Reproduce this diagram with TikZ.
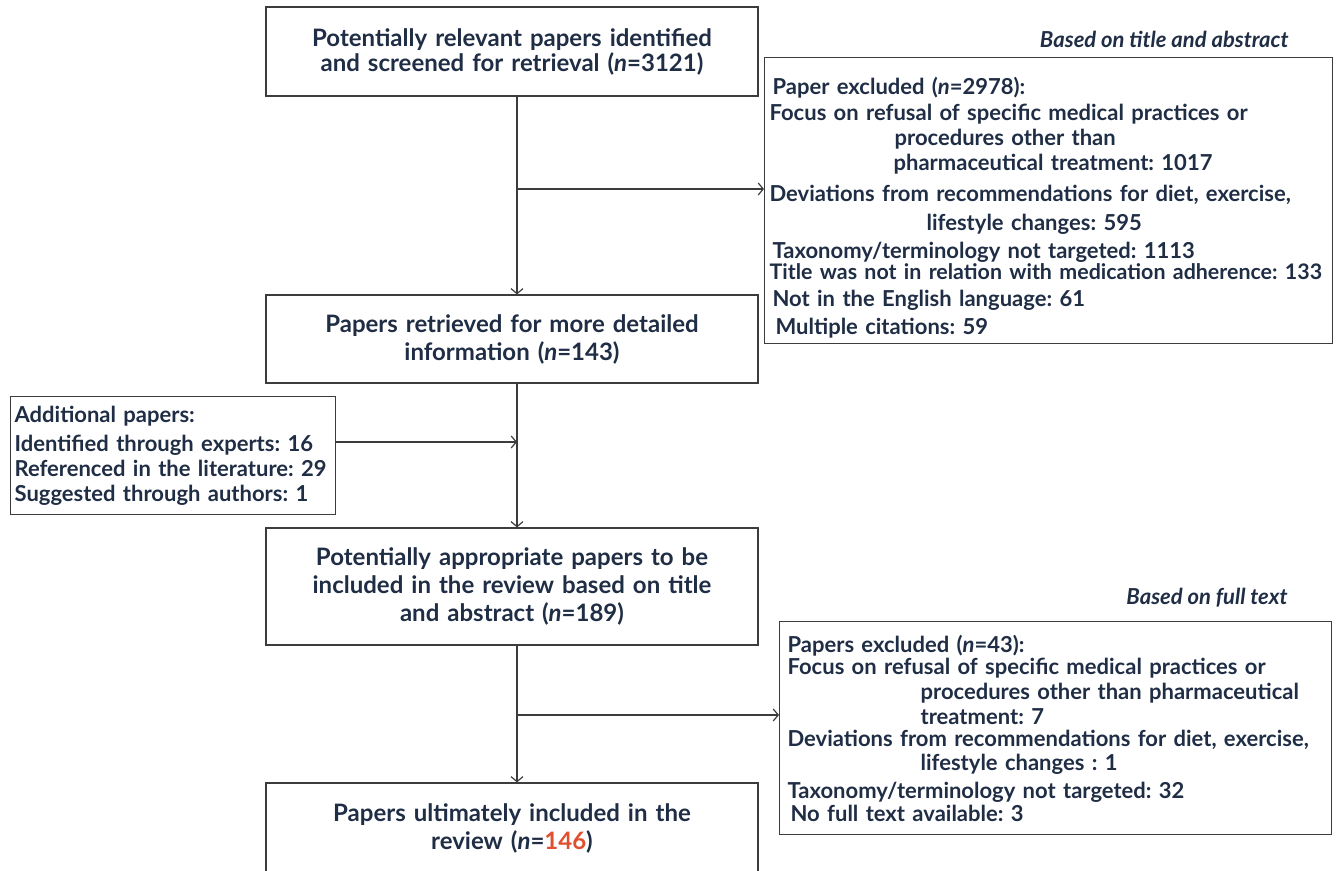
\documentclass[tikz,border=0pt]{standalone}
\usepackage{fontspec}
\setmainfont{Lato}
\usetikzlibrary{positioning,arrows,arrows.meta}
\definecolor{inkblue}{HTML}{1F2D45}
\definecolor{hitred}{HTML}{E0502E}
\definecolor{edgegray}{HTML}{3C3C3C}
\frenchspacing

\begin{document}
\begin{tikzpicture}[x=0.5pt, y=-0.5pt,
    mainbox/.style={draw=edgegray, line width=0.6pt, minimum width=246pt, text width=236pt,
      align=center, inner sep=0pt, text=inkblue, font=\fontsize{12}{14}\selectfont\bfseries},
    sidebox/.style={draw=edgegray, line width=0.6pt, anchor=north west, align=left,
      inner ysep=0pt, text=inkblue, font=\fontsize{11}{12.5}\selectfont\bfseries},
    tag/.style={anchor=east, inner sep=0pt, text=inkblue, font=\fontsize{11}{12}\selectfont\bfseries\itshape},
    line/.style={draw=edgegray, line width=0.6pt, -{Straight Barb[length=2.5pt,width=6pt]}}]
  \useasboundingbox (0,0) rectangle (1338,871);

  % main column
  \node[mainbox, minimum height=44.5pt, font=\fontsize{12}{12.5}\selectfont\bfseries] (found) at (512,51.5)
    {Potentially relevant papers identified\\ and screened for retrieval (\textit{n}=3121)};
  \node[mainbox, minimum height=44pt] (retr) at (512,339)
    {Papers retrieved for more detailed\\ information (\textit{n}=143)};
  \node[mainbox, minimum height=58.5pt] (appr) at (512,586.5)
    {Potentially appropriate papers to be\\ included in the review based on title\\ and abstract (\textit{n}=189)};
  \node[mainbox, minimum height=45pt] (incl) at (512,828)
    {Papers ultimately included in the\\ review (\textit{n}=\textcolor{hitred}{146})};

  % exclusions and additions
  \node[tag] (tagone) at (1289,39) {Based on title and abstract};
  \node[sidebox, inner xsep=2.5pt, text width=279pt, minimum width=284pt, minimum height=143pt] (exone) at (764,57) {%
    \rule{0pt}{16pt}\hspace*{1.5pt}Paper excluded (\textit{n}=2978):\\[0.5pt]
    Focus on refusal of specific medical practices or\\
    \hspace*{62.5pt}procedures other than\\
    \hspace*{62pt}pharmaceutical treatment: 1017\\[3pt]
    Deviations from recommendations for diet, exercise,\\[2pt]
    \hspace*{78.5pt}lifestyle changes: 595\\[1.5pt]
    \hspace*{1.5pt}Taxonomy/terminology not targeted: 1113\\[-2pt]
    {\fontsize{10.7}{12.5}\selectfont Title was not in relation with medication adherence: 133}\\[1pt]
    \hspace*{1.5pt}Not in the English language: 61\\[1.5pt]
    \hspace*{3pt}Multiple citations: 59};

  \node[sidebox, inner xsep=2pt, text width=158.5pt, minimum width=162.5pt, minimum height=59pt] (extra) at (10,396) {%
    Additional papers:\\[2pt]
    Identified through experts: 16\\
    Referenced in the literature: 29\\
    Suggested through authors: 1};

  \node[tag] (tagtwo) at (1288,598) {Based on full text};
  \node[sidebox, inner xsep=4pt, text width=268pt, minimum width=276pt, minimum height=106.5pt,
    font=\fontsize{11}{12}\selectfont\bfseries] (extwo) at (779,621) {%
    Papers excluded (\textit{n}=43):\\[-1pt]
    Focus on refusal of specific medical practices or\\[0.5pt]
    \hspace*{66.5pt}procedures other than pharmaceutical\\[0.5pt]
    \hspace*{66.5pt}treatment: 7\\[-1pt]
    Deviations from recommendations for diet, exercise,\\
    \hspace*{66.5pt}lifestyle changes : 1\\[2pt]
    Taxonomy/terminology not targeted: 32\\[-0.5pt]
    \hspace*{1.5pt}No full text available: 3};

  % connectors
  \coordinate (axis) at (517,0);
  \coordinate (splitone) at (517,189);
  \coordinate (joinone) at (517,442);
  \coordinate (splittwo) at (517,715);
  \path[line] (found.south -| axis) -- (retr.north -| axis);
  \path[line] (splitone) -- (splitone -| exone.west);
  \path[line] (retr.south -| axis) -- (appr.north -| axis);
  \path[line] (joinone -| extra.east) -- (joinone);
  \path[line] (appr.south -| axis) -- (incl.north -| axis);
  \path[line] (splittwo) -- (splittwo -| extwo.west);
\end{tikzpicture}
\end{document}
